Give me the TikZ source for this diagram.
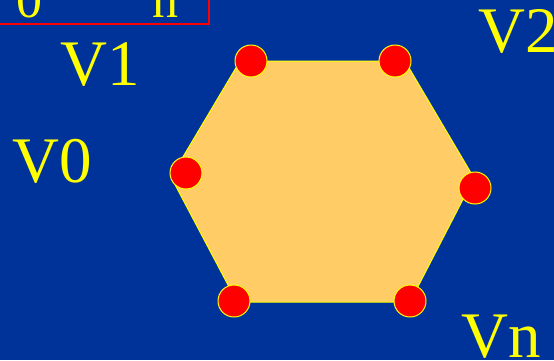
\documentclass[tikz,border=0pt]{standalone}
\usepackage{fontspec}
\setmainfont{Liberation Serif}
\definecolor{bgblue}{HTML}{003399}
\definecolor{hexfill}{HTML}{FFCC66}
\definecolor{lab}{HTML}{FFFF00}
\definecolor{dotred}{HTML}{FF0000}
\begin{document}
\begin{tikzpicture}[x=1pt,y=-1pt,
  lbl/.style={text=lab,anchor=base west,inner sep=0pt,font=\fontsize{65}{70}\selectfont},
  smalllbl/.style={text=lab,anchor=base west,inner sep=0pt,font=\fontsize{52}{56}\selectfont},
  vdot/.style={circle,fill=dotred,draw=lab,line width=1pt,minimum size=32pt,inner sep=0pt}]
\fill[bgblue] (0,0) rectangle (554,360);
\useasboundingbox (0,0) rectangle (554,360);
% top-left box
\draw[dotred,line width=1.6pt] (-10,-10) rectangle (209,24);
\node[smalllbl] (t0) at (16,17) {0};
\node[smalllbl] (tn) at (152,17) {n};
% hexagon
\coordinate (h1) at (240,61);
\coordinate (h2) at (405,61);
\coordinate (h3) at (474,178);
\coordinate (h4) at (410,302);
\coordinate (h5) at (237,302);
\coordinate (h6) at (171,177);
\filldraw[fill=hexfill,draw=lab,line width=1pt] (h1) -- (h2) -- (h3) -- (h4) -- (h5) -- (h6) -- cycle;
% vertices
\node[vdot] (p1) at (251,61) {};
\node[vdot] (p2) at (395,61) {};
\node[vdot] (p3) at (475,188) {};
\node[vdot] (p4) at (410,301) {};
\node[vdot] (p5) at (234,301) {};
\node[vdot] (p6) at (186,173) {};
% labels
\node[lbl] (v1) at (60,85) {V1};
\node[lbl] (v0) at (12,182) {V0};
\node[lbl] (v2) at (478,52) {V2};
\node[lbl] (vn) at (461,357) {Vn};
\end{tikzpicture}
\end{document}
